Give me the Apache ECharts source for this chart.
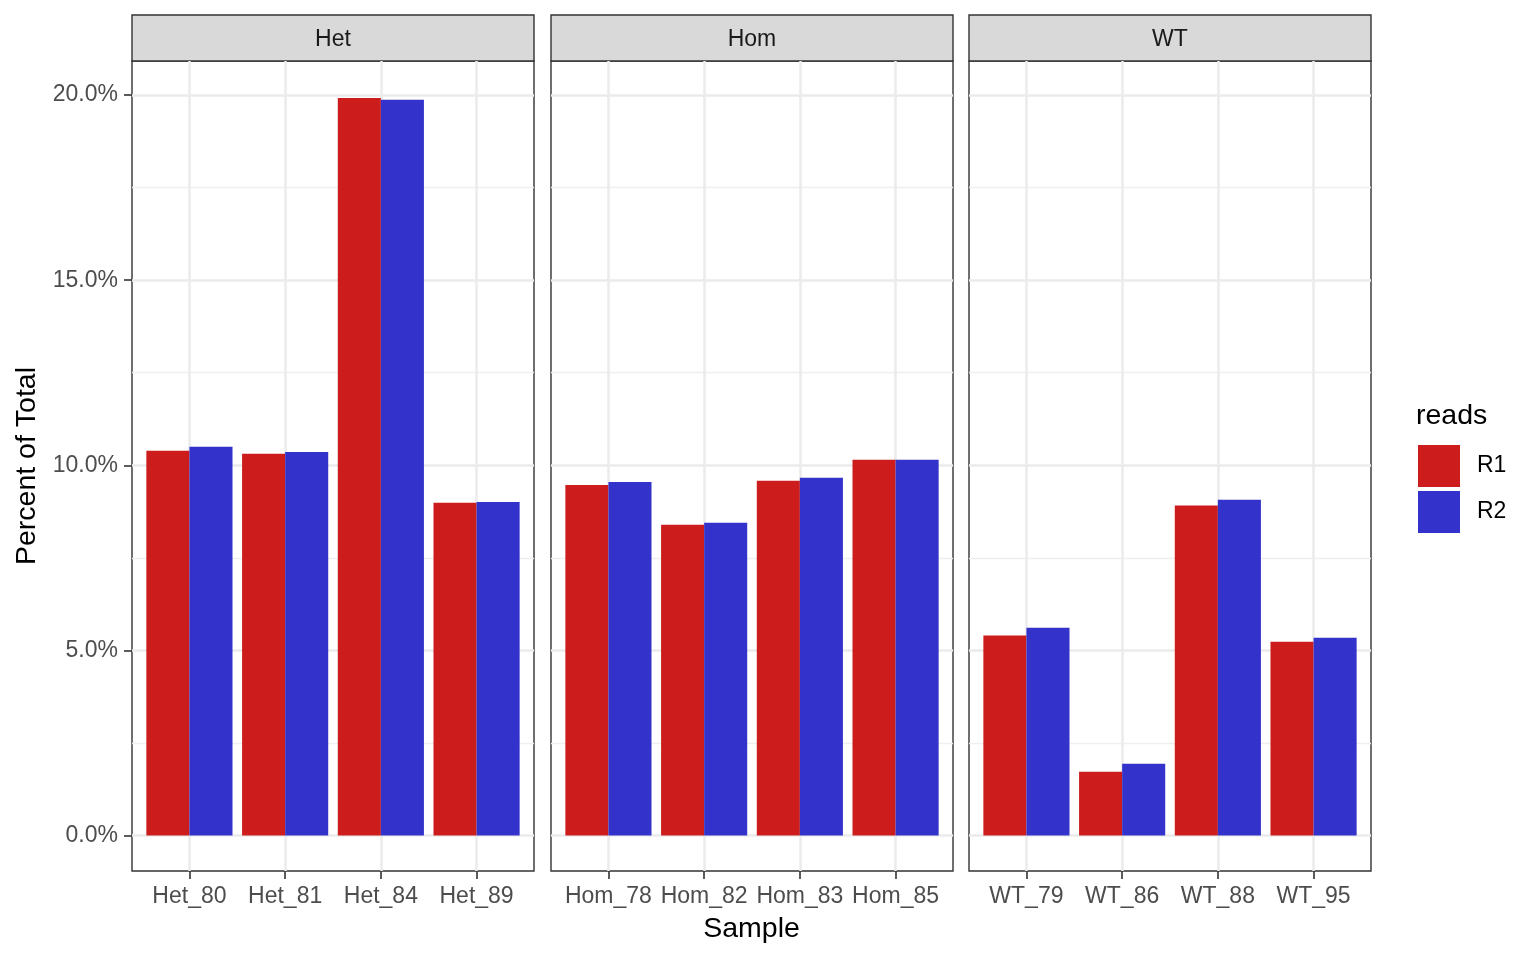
<!DOCTYPE html>
<html><head><meta charset="utf-8">
<script src="https://cdn.jsdelivr.net/npm/echarts@6/dist/echarts.min.js"></script>
<style>html,body{margin:0;padding:0;background:#fff}#c{width:1536px;height:960px}</style>
</head><body><div id="c"></div>
<script>
// ---- data ----
const panels = ['Het', 'Hom', 'WT'];
const samplesHet = ['Het_80', 'Het_81', 'Het_84', 'Het_89'];
const samplesHom = ['Hom_78', 'Hom_82', 'Hom_83', 'Hom_85'];
const samplesWT = ['WT_79', 'WT_86', 'WT_88', 'WT_95'];
const r1Het = [10.39, 10.31, 19.92, 8.99];
const r2Het = [10.50, 10.36, 19.87, 9.01];
const r1Hom = [9.47, 8.39, 9.58, 10.15];
const r2Hom = [9.55, 8.45, 9.66, 10.15];
const r1WT = [5.40, 1.72, 8.91, 5.23];
const r2WT = [5.61, 1.94, 9.07, 5.34];
const yTicks = [0, 5, 10, 15, 20];
const yMinorTicks = [2.5, 7.5, 12.5, 17.5];
const readNames = ['R1', 'R2'];

// ---- layout / style ----
const samples = [samplesHet, samplesHom, samplesWT];
const r1 = [r1Het, r1Hom, r1WT];
const r2 = [r2Het, r2Hom, r2WT];
const colors = ['#CC1C1C', '#3333CC'];
const FONT = '"Liberation Sans", Arial, Helvetica, sans-serif';
const gridLefts = [132, 551, 969];
const gridW = 402, gridTop = 61, gridH = 810;
const yMin = -0.96, yMax = 20.92;
const xMin = 0.4, xMax = 4.6;
const xPos = [1, 2, 3, 4];

const grids = [], xAxes = [], yAxes = [], series = [], graphics = [];
panels.forEach((p, i) => {
  grids.push({
    left: gridLefts[i], top: gridTop, width: gridW, height: gridH,
    show: true, borderColor: '#333333', borderWidth: 1.4, backgroundColor: '#fff',
    containLabel: false, outerBoundsMode: 'none'
  });
  xAxes.push({
    type: 'value', gridIndex: i, min: xMin, max: xMax, position: 'bottom',
    axisLine: { show: false, onZero: false },
    axisTick: { show: true, length: 8, lineStyle: { color: '#333333', width: 1.6 }, customValues: xPos },
    axisLabel: { show: true, customValues: xPos, margin: 14, fontSize: 23, color: '#4D4D4D', fontFamily: FONT,
      formatter: v => samples[i][Math.round(v) - 1] },
    splitLine: { show: true, lineStyle: { color: '#EBEBEB', width: 2.5 } }
  });
  yAxes.push({
    type: 'value', gridIndex: i, min: yMin, max: yMax, position: 'left',
    axisLine: { show: false, onZero: false },
    axisTick: { show: i === 0, length: 8, lineStyle: { color: '#333333', width: 1.6 }, customValues: yTicks },
    axisLabel: { show: i === 0, customValues: yTicks, margin: 14, fontSize: 23, color: '#4D4D4D', fontFamily: FONT,
      padding: [4, 0, 0, 0], formatter: v => v.toFixed(1) + '%' },
    splitLine: { show: true, lineStyle: { color: '#EBEBEB', width: 2.5 } }
  });
  yAxes.push({
    type: 'value', gridIndex: i, min: yMin, max: yMax, position: 'left',
    axisLine: { show: false, onZero: false },
    axisTick: { show: false, customValues: yMinorTicks },
    axisLabel: { show: false, customValues: yMinorTicks },
    splitLine: { show: true, lineStyle: { color: '#EFEFEF', width: 1.3 } }
  });
  [r1[i], r2[i]].forEach((vals, k) => {
    series.push({
      type: 'bar', name: readNames[k], xAxisIndex: i, yAxisIndex: 2 * i,
      barWidth: '45%', barGap: '0%',
      itemStyle: { color: colors[k] },
      data: vals.map((v, j) => [xPos[j], v])
    });
  });
  graphics.push({
    type: 'rect', shape: { x: gridLefts[i], y: 15, width: gridW, height: 46 },
    style: { fill: '#D9D9D9', stroke: '#333333', lineWidth: 1.4 }
  });
  graphics.push({
    type: 'text', x: gridLefts[i] + gridW / 2, y: 39.5,
    style: { text: p, fontSize: 23, fill: '#1A1A1A', fontFamily: FONT, align: 'center', verticalAlign: 'middle' }
  });
});

graphics.push({
  type: 'text', x: 751.5, y: 929.5,
  style: { text: 'Sample', fontSize: 28.5, fill: '#000', fontFamily: FONT, align: 'center', verticalAlign: 'middle' }
});
graphics.push({
  type: 'text', x: 27, y: 466, rotation: Math.PI / 2,
  style: { text: 'Percent of Total', fontSize: 28.5, fill: '#000', fontFamily: FONT, align: 'center', verticalAlign: 'middle' }
});
graphics.push({
  type: 'text', x: 1416, y: 416,
  style: { text: 'reads', fontSize: 28.5, fill: '#000', fontFamily: FONT, align: 'left', verticalAlign: 'middle' }
});

const chart = echarts.init(document.getElementById('c'), null, { renderer: 'canvas' });
chart.setOption({
  animation: false,
  backgroundColor: '#fff',
  grid: grids,
  xAxis: xAxes,
  yAxis: yAxes,
  series: series,
  legend: {
    data: readNames, orient: 'vertical', left: 1418, top: 445, padding: 0,
    itemWidth: 42, itemHeight: 42, itemGap: 4, icon: 'rect',
    textStyle: { fontSize: 23, color: '#000', fontFamily: FONT, padding: [4, 0, 0, 12] }
  },
  graphic: graphics
});
</script>
</body></html>
